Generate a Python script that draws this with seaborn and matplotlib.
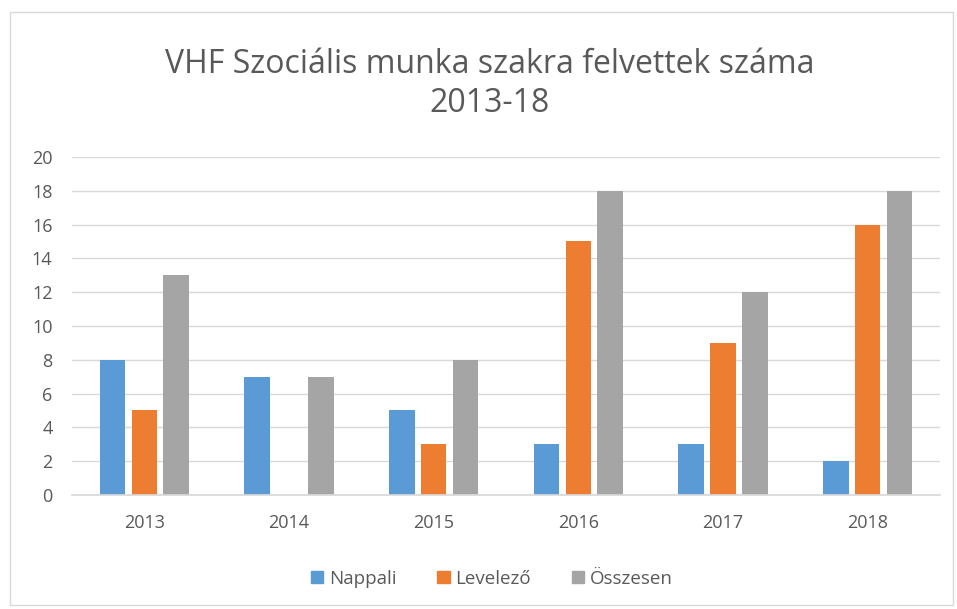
import matplotlib
matplotlib.use("Agg")
import matplotlib.pyplot as plt
import seaborn as sns
import pandas as pd
from matplotlib.patches import Rectangle

years = ["2013", "2014", "2015", "2016", "2017", "2018"]
nappali = [8, 7, 5, 3, 3, 2]
levelezo = [5, 0, 3, 15, 9, 16]
osszesen = [13, 7, 8, 18, 12, 18]
series_names = ["Nappali", "Levelező", "Összesen"]
colors = ["#5B9BD5", "#ED7D31", "#A5A5A5"]
yticks = [0, 2, 4, 6, 8, 10, 12, 14, 16, 18, 20]

df = pd.DataFrame({
    "year": years * 3,
    "value": nappali + levelezo + osszesen,
    "series": [series_names[0]] * 6 + [series_names[1]] * 6 + [series_names[2]] * 6,
})

sns.set_theme(style="white")
plt.rcParams['font.family'] = ['Open Sans', 'DejaVu Sans']
text_color = "#595959"

fig = plt.figure(figsize=(9.57, 6.09), dpi=100)
ax = fig.add_axes([0.0752, 0.1872, 0.9070, 0.5550])

sns.barplot(data=df, x="year", y="value", hue="series", palette=colors,
            width=0.66, gap=0.2, ax=ax, legend=False, saturation=1, linewidth=0)

ax.set_ylim(0, 20)
ax.set_xlim(-0.5, 5.5)
ax.set_yticks(yticks)
ax.set_yticklabels([str(t) for t in yticks])
ax.grid(axis="y", color="#D9D9D9", linewidth=1)
ax.set_axisbelow(True)
for s in ["top", "right", "left"]:
    ax.spines[s].set_visible(False)
ax.spines["bottom"].set_color("#D9D9D9")
ax.set_xlabel("")
ax.set_ylabel("")
ax.tick_params(axis="both", length=0, labelsize=13, colors=text_color)
ax.tick_params(axis="x", pad=14)
ax.tick_params(axis="y", pad=14)

fig.text(0.512, 0.862, "VHF Szociális munka szakra felvettek száma\n2013-18",
         ha="center", va="center", fontsize=23, color=text_color, linespacing=1.25)

# legend
handles = [Rectangle((0, 0), 1, 1, color=c) for c in colors]
fig.legend(handles, series_names, loc="center", bbox_to_anchor=(0.514, 0.05),
           ncol=3, frameon=False, fontsize=13.5, labelcolor=text_color,
           handlelength=0.65, handleheight=0.65, handletextpad=0.3, columnspacing=2.2)

# outer border
fig.patches.append(Rectangle((0.0105, 0.007), 0.985, 0.973, transform=fig.transFigure,
                             fill=False, edgecolor="#D9D9D9", linewidth=1))

fig.savefig("out.png", dpi=100, facecolor="white")
